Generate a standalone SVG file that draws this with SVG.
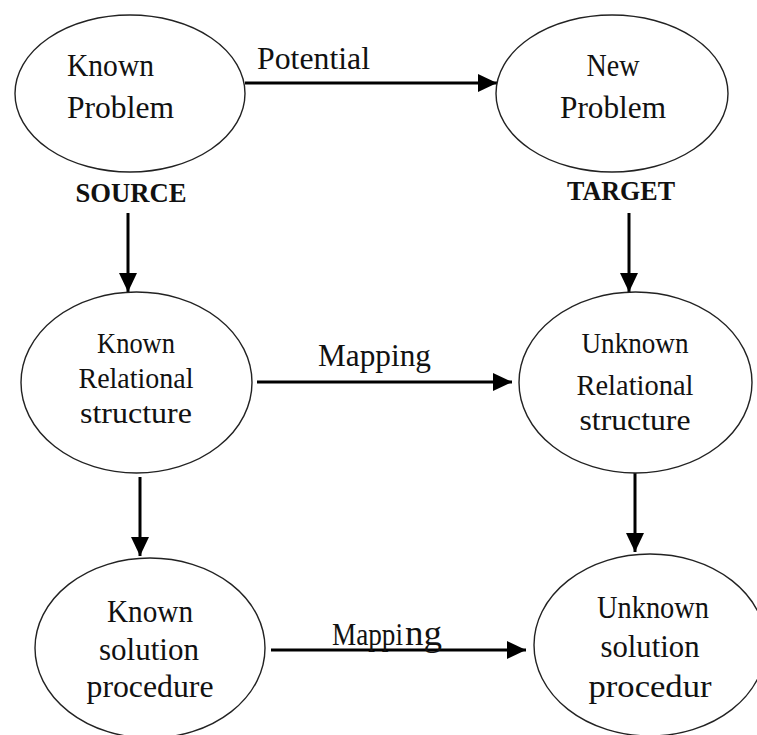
<svg xmlns="http://www.w3.org/2000/svg" width="757" height="735" viewBox="0 0 757 735">
<style>
.node ellipse{fill:#fff;stroke:#222;stroke-width:1.4}
text{font-family:"Liberation Serif","Times New Roman",serif;fill:#111}
.t30{font-size:32px}
.t27{font-size:29px}
.c{text-anchor:middle}
.bold{font-weight:bold}
.conn line{stroke:#000;stroke-width:3}
</style>
<defs>
<marker id="ah" markerUnits="userSpaceOnUse" markerWidth="19" markerHeight="18" refX="19" refY="9" orient="auto">
<path d="M0,0 L19,9 L0,18 z" fill="#000"/>
</marker>
</defs>
<rect width="757" height="735" fill="#fff"/>
<g id="connectors" class="conn">
<line x1="245" y1="83" x2="497" y2="83" marker-end="url(#ah)"/>
<line x1="257" y1="382" x2="512" y2="382" marker-end="url(#ah)"/>
<line x1="271" y1="650" x2="526" y2="650" marker-end="url(#ah)"/>
<line x1="128" y1="213" x2="128" y2="292" marker-end="url(#ah)"/>
<line x1="629" y1="213" x2="629" y2="292" marker-end="url(#ah)"/>
<line x1="140" y1="477" x2="140" y2="556" marker-end="url(#ah)"/>
<line x1="635" y1="473" x2="635" y2="552" marker-end="url(#ah)"/>
</g>
<g id="labels">
<text class="t30" x="257" y="69" textLength="113" lengthAdjust="spacingAndGlyphs">Potential</text>
<text class="t30" x="318" y="366" textLength="113" lengthAdjust="spacingAndGlyphs">Mapping</text>
<text x="332" y="645"><tspan font-size="31" textLength="71" lengthAdjust="spacingAndGlyphs">Mappi</tspan><tspan dx="2" font-size="36" textLength="37" lengthAdjust="spacingAndGlyphs">ng</tspan></text>
<text class="bold" font-size="27" x="131" y="202" text-anchor="middle" textLength="111" lengthAdjust="spacingAndGlyphs">SOURCE</text>
<text class="bold" font-size="27" x="621" y="200" text-anchor="middle" textLength="108" lengthAdjust="spacingAndGlyphs">TARGET</text>
</g>
<g id="known-problem" class="node">
<ellipse cx="130" cy="93.5" rx="115" ry="78.5"/>
<text class="t30" x="67" y="76" textLength="87" lengthAdjust="spacingAndGlyphs">Known</text>
<text class="t30" x="67" y="118" textLength="107" lengthAdjust="spacingAndGlyphs">Problem</text>
</g>
<g id="new-problem" class="node">
<ellipse cx="612" cy="93.5" rx="116" ry="78.5"/>
<text class="t30 c" x="613" y="76" textLength="53" lengthAdjust="spacingAndGlyphs">New</text>
<text class="t30 c" x="613" y="118" textLength="106" lengthAdjust="spacingAndGlyphs">Problem</text>
</g>
<g id="known-relational" class="node">
<ellipse cx="136.5" cy="382.5" rx="115.5" ry="90.5"/>
<text class="t27 c" x="136" y="353" textLength="78" lengthAdjust="spacingAndGlyphs">Known</text>
<text class="t27 c" x="136" y="388" textLength="115" lengthAdjust="spacingAndGlyphs">Relational</text>
<text class="t27 c" x="136" y="423" textLength="112" lengthAdjust="spacingAndGlyphs">structure</text>
</g>
<g id="unknown-relational" class="node">
<ellipse cx="635.5" cy="382.5" rx="116.5" ry="90.5"/>
<text class="t27 c" x="635" y="353" textLength="107" lengthAdjust="spacingAndGlyphs">Unknown</text>
<text class="t27 c" x="635" y="395" textLength="117" lengthAdjust="spacingAndGlyphs">Relational</text>
<text class="t27 c" x="635" y="430" textLength="111" lengthAdjust="spacingAndGlyphs">structure</text>
</g>
<g id="known-solution" class="node">
<ellipse cx="150" cy="648" rx="115" ry="90"/>
<text class="t30 c" x="150" y="622" textLength="86" lengthAdjust="spacingAndGlyphs">Known</text>
<text class="t30 c" x="149" y="660" textLength="100" lengthAdjust="spacingAndGlyphs">solution</text>
<text class="t30 c" x="150" y="697" textLength="127" lengthAdjust="spacingAndGlyphs">procedure</text>
</g>
<g id="unknown-solution" class="node">
<ellipse cx="650" cy="645" rx="116" ry="91"/>
<text class="t30 c" x="653" y="618" textLength="112" lengthAdjust="spacingAndGlyphs">Unknown</text>
<text class="t30 c" x="650" y="657" textLength="99" lengthAdjust="spacingAndGlyphs">solution</text>
<text class="t30 c" x="650" y="697" textLength="123" lengthAdjust="spacingAndGlyphs">procedur</text>
</g>
</svg>
